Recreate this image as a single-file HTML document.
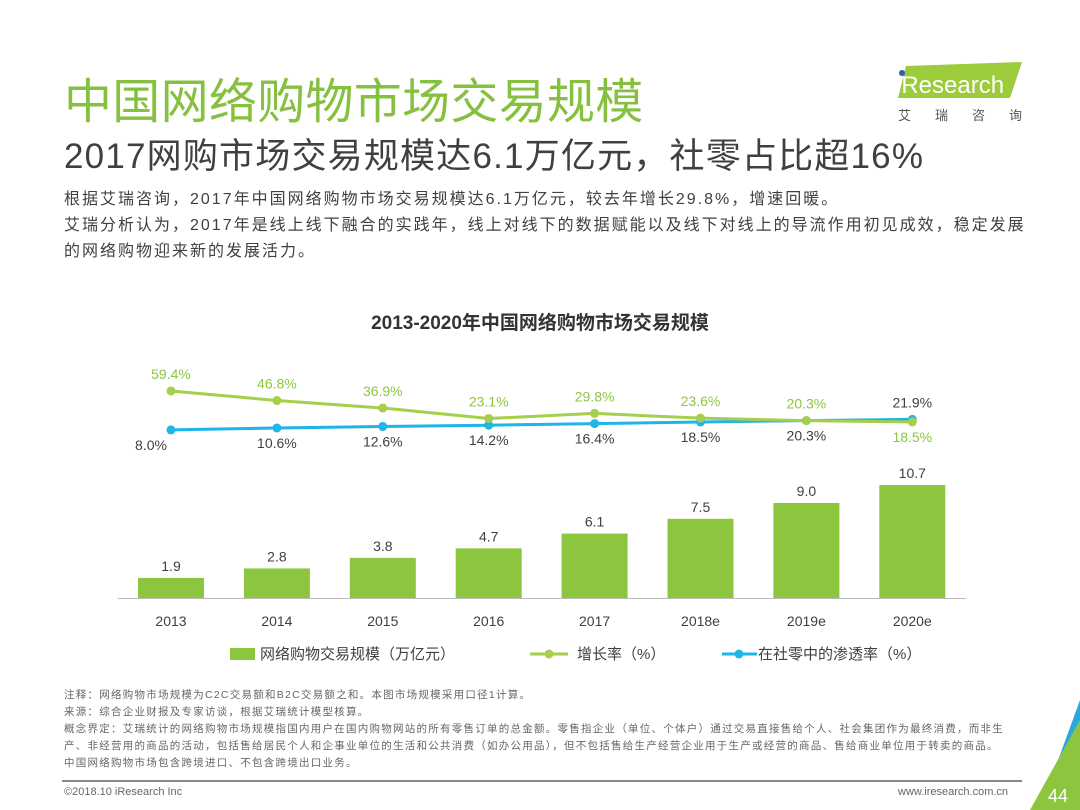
<!DOCTYPE html>
<html><head><meta charset="utf-8">
<style>
body{margin:0;width:1080px;height:810px;overflow:hidden;background:#fff;font-family:"Liberation Sans","Noto Sans CJK SC",sans-serif;position:relative;color:#404040}
.abs{position:absolute;white-space:nowrap}
</style></head><body>
<div class="abs" style="left:64px;top:62px;font-size:48px;color:#86c03f;letter-spacing:0.3px">中国网络购物市场交易规模</div>
<div class="abs" style="left:64px;top:128px;font-size:35px;color:#404040;letter-spacing:1.2px">2017网购市场交易规模达6.1万亿元，社零占比超16%</div>
<div class="abs" style="left:892px;top:60px;width:130px;height:64px">
<svg width="130" height="64"><polygon points="14,6 130,2 118,38 6,38" fill="#9ccb3b"/><circle cx="10" cy="13" r="3" fill="#2b5fa8"/><text x="4" y="33" font-size="24" fill="#fff" font-family="Liberation Sans">iResearch</text><text x="6" y="60" font-size="13" fill="#555" font-family="Noto Sans CJK SC" letter-spacing="24">艾瑞咨询</text></svg></div>
<div class="abs" style="left:64px;top:187px;font-size:16px;line-height:26px;color:#404040;letter-spacing:2px">根据艾瑞咨询，2017年中国网络购物市场交易规模达6.1万亿元，较去年增长29.8%，增速回暖。<br>艾瑞分析认为，2017年是线上线下融合的实践年，线上对线下的数据赋能以及线下对线上的导流作用初见成效，稳定发展<br>的网络购物迎来新的发展活力。</div>
<div class="abs" style="left:0;width:1080px;text-align:center;top:308px;font-size:19px;font-weight:bold;color:#333">2013-2020年中国网络购物市场交易规模</div>
<svg id="chart" class="abs" style="left:0;top:0" width="1080" height="680"></svg>
<div class="abs" style="left:64px;top:687px;font-size:10.5px;line-height:17px;color:#666;letter-spacing:1.25px">注释：网络购物市场规模为C2C交易额和B2C交易额之和。本图市场规模采用口径1计算。<br>来源：综合企业财报及专家访谈，根据艾瑞统计模型核算。<br>概念界定：艾瑞统计的网络购物市场规模指国内用户在国内购物网站的所有零售订单的总金额。零售指企业（单位、个体户）通过交易直接售给个人、社会集团作为最终消费，而非生<br>产、非经营用的商品的活动，包括售给居民个人和企事业单位的生活和公共消费（如办公用品），但不包括售给生产经营企业用于生产或经营的商品、售给商业单位用于转卖的商品。<br>中国网络购物市场包含跨境进口、不包含跨境出口业务。</div>
<div class="abs" style="left:62px;top:780px;width:960px;height:2px;background:#888"></div>
<div class="abs" style="left:64px;top:786px;font-size:11px;color:#666">©2018.10 iResearch Inc</div>
<div class="abs" style="left:898px;top:786px;font-size:11px;color:#666">www.iresearch.com.cn</div>
<svg class="abs" style="left:1030px;top:700px" width="50" height="110"><polygon points="50,0 50,110 10,110" fill="#2aa7de"/><polygon points="50,20 50,110 0,110" fill="#8cc63f"/><text x="18" y="102" font-size="18" fill="#fff">44</text></svg>
<script>
const categories=["2013","2014","2015","2016","2017","2018e","2019e","2020e"];
const scaleValues=[1.9,2.8,3.8,4.7,6.1,7.5,9.0,10.7];
const growthRates=[59.4,46.8,36.9,23.1,29.8,23.6,20.3,18.5];
const penetration=[8.0,10.6,12.6,14.2,16.4,18.5,20.3,21.9];
const NS="http://www.w3.org/2000/svg";
const svg=document.getElementById('chart');
const x=i=>171+i*105.9;
const yBar=v=>598-v*10.56;
const yLine=v=>436-v*0.758;
function el(t,a,txt){const e=document.createElementNS(NS,t);for(const k in a)e.setAttribute(k,a[k]);if(txt!==undefined)e.textContent=txt;svg.appendChild(e);return e;}
const ax=el('line',{x1:118,x2:966,y1:598.5,y2:598.5,stroke:'#bbb'});


categories.forEach((c,i)=>{
 const r=el('rect',{x:x(i)-33,y:yBar(scaleValues[i]),width:66,height:598-yBar(scaleValues[i]),fill:'#8cc63f'});
 
 
 const l=el('text',{x:x(i),y:yBar(scaleValues[i])-7,'text-anchor':'middle','font-size':14,fill:'#404040'},scaleValues[i].toFixed(1));
 
 
 const t=el('text',{x:x(i),y:626,'text-anchor':'middle','font-size':14,fill:'#404040'},c);
 
 
});
function series(vals,color,name,labelColor,above){
 const p=el('polyline',{points:vals.map((v,i)=>x(i)+','+yLine(v)).join(' '),fill:'none',stroke:color,'stroke-width':3});
 
 
 vals.forEach((v,i)=>{
  const c=el('circle',{cx:x(i),cy:yLine(v),r:4.5,fill:color});
  
  
  const last=i===vals.length-1;
  const up=above!==last;
  const t=el('text',{x:x(i)+(i===0&&!up?-20:0),y:up?yLine(v)-12:yLine(v)+20,'text-anchor':'middle','font-size':14,fill:last&&!up&&name==='growth'?'#8cc63f':labelColor},v.toFixed(1)+'%');
  
  
 });
}
series(penetration,'#1fb5e8','penetration','#404040',false);
series(growthRates,'#a5cf4c','growth','#8cc63f',true);
let g=el('rect',{x:230,y:648,width:25,height:12,fill:'#8cc63f'});


g=el('text',{x:260,y:659,'font-size':15,fill:'#404040'},'网络购物交易规模（万亿元）');


g=el('line',{x1:530,x2:568,y1:654,y2:654,stroke:'#a5cf4c','stroke-width':3});


g=el('circle',{cx:549,cy:654,r:4.5,fill:'#a5cf4c'});


g=el('text',{x:577,y:659,'font-size':15,fill:'#404040'},'增长率（%）');


g=el('line',{x1:722,x2:757,y1:654,y2:654,stroke:'#1fb5e8','stroke-width':3});


g=el('circle',{cx:739,cy:654,r:4.5,fill:'#1fb5e8'});


g=el('text',{x:758,y:659,'font-size':15,fill:'#404040'},'在社零中的渗透率（%）');


</script>
</body></html>
